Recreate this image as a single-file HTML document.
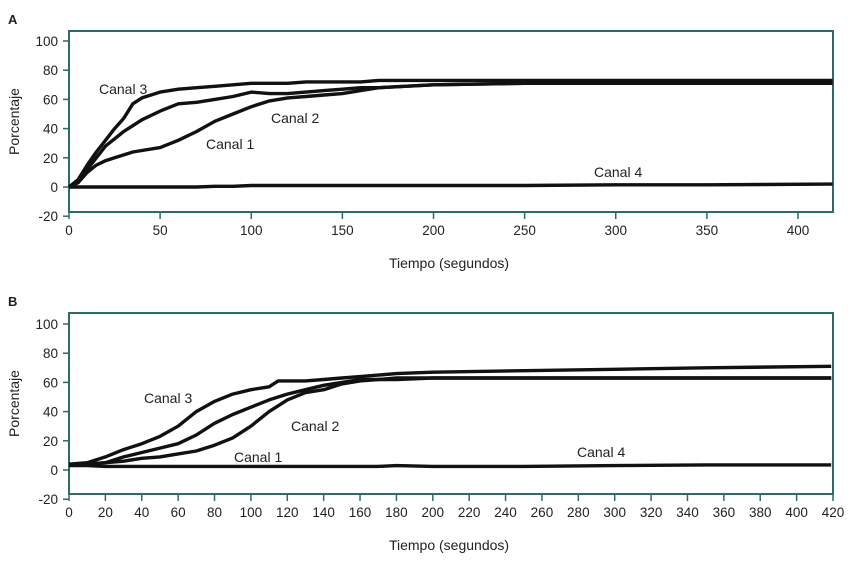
<!DOCTYPE html>
<html><head><meta charset="utf-8"><style>
html,body{margin:0;padding:0;background:#fff;}
svg text{font-family:"Liberation Sans",sans-serif;fill:#222;}
</style></head><body>
<svg id="chart" width="852" height="574" viewBox="0 0 852 574" xmlns="http://www.w3.org/2000/svg"></svg>
<script>
// ---- Panel A data ----
const aTime = [0,5,10,15,20,25,30,35,40,50,60,70,80,90,100,110,120,130,140,150,160,170,200,250,300,350,420];
const aCanal3 = [0,5,15,24,32,40,47,57,61,65,67,68,69,70,71,71,71,72,72,72,72,73,73,73,73,73,73];
const aCanal2 = [0,3,12,20,28,33,38,42,46,52,57,58,60,62,65,64,64,65,66,67,68,68,70,71,71,71,71];
const aCanal1 = [0,3,10,15,18,20,22,24,25,27,32,38,45,50,55,59,61,62,63,64,66,68,70,71,71,71,71];
const aCanal4 = [0,0,0,0,0,0,0,0,0,0,0,0,0.5,0.5,1,1,1,1,1,1,1,1,1,1,1.5,1.5,2];
const aTicks = [0,50,100,150,200,250,300,350,400];
// ---- Panel B data ----
const bTime = [0,10,20,30,40,50,60,70,80,90,100,110,115,120,130,140,150,160,170,180,200,250,300,350,420];
const bCanal3 = [4,5,9,14,18,23,30,40,47,52,55,57,61,61,61,62,63,64,65,66,67,68,69,70,71];
const bCanal2 = [4,4,5,9,12,15,18,24,32,38,43,48,50,52,55,58,60,62,62,63,63,63,63,63,63];
const bCanal1 = [4,4,5,6,8,9,11,13,17,22,30,40,44,48,53,55,59,61,62,62,63,63,63,63,63];
const bCanal4 = [3,3,2.5,2.5,2.5,2.5,2.5,2.5,2.5,2.5,2.5,2.5,2.5,2.5,2.5,2.5,2.5,2.5,2.5,3,2.5,2.5,3,3.5,3.5];
const bTicks = [0,20,40,60,80,100,120,140,160,180,200,220,240,260,280,300,320,340,360,380,400,420];
const yTicks = [100,80,60,40,20,0,-20];

const NS="http://www.w3.org/2000/svg";
const svg=document.getElementById('chart');
function mk(tag,attrs,parent){const e=document.createElementNS(NS,tag);for(const k in attrs)e.setAttribute(k,attrs[k]);(parent||svg).appendChild(e);return e;}
function txt(x,y,s,size,anchor,parent){const t=mk('text',{x:x,y:y,'font-size':size,'text-anchor':anchor||'middle'},parent);t.textContent=s;return t;}

function panel(cfg){
  const g=mk('g',{});
  
  
  const xs=v=>cfg.x0+(v)*(cfg.x400-cfg.x0)/400;
  const ys=v=>cfg.y0-v*cfg.yPer;
  const L=txt(8,cfg.top-7,cfg.letter,13,'start',g);L.setAttribute('font-weight','bold');
  
  
  const fr=mk('rect',{x:69,y:cfg.top,width:764,height:cfg.bottom-cfg.top,fill:'none',stroke:'#2d6b6b','stroke-width':2},g);
  
  
  yTicks.forEach(v=>{
    const y=ys(v);
    mk('line',{x1:63,x2:69,y1:y,y2:y,stroke:'#2d6b6b','stroke-width':1.5},g);
    const t=txt(58,y+5,String(v),13.5,'end',g);
    
    
  });
  cfg.ticks.forEach(v=>{
    const x=xs(v);
    mk('line',{x1:x,x2:x,y1:cfg.bottom,y2:cfg.bottom+7,stroke:'#2d6b6b','stroke-width':1.5},g);
    const t=txt(x,cfg.bottom+23,String(v),13.5,'middle',g);
    
    
  });
  const xt=txt(449,cfg.bottom+56,'Tiempo (segundos)',14,'middle',g);
  
  
  const ytc=(cfg.top+cfg.bottom)/2;
  const yt=txt(19,ytc,'Porcentaje',14,'middle',g);
  yt.setAttribute('transform','rotate(-90 19 '+ytc+')');
  
  
  cfg.series.forEach(s=>{
    const d=cfg.time.map((t,i)=>(i?'L':'M')+xs(Math.min(t,419)).toFixed(1)+','+ys(s.vals[i]).toFixed(1)).join(' ');
    const p=mk('path',{d:d,fill:'none',stroke:'#111','stroke-width':3.4,'stroke-linejoin':'round'},g);
    
    
  });
  cfg.labels.forEach(l=>{
    const t=txt(l[0],l[1],l[2],14,'start',g);
    
    
  });
}
panel({name:'panel-a',letter:'A',top:31,bottom:212,x0:69,x400:798,y0:187,yPer:1.46,ticks:aTicks,time:aTime,
  series:[{name:'line-canal-3',vals:aCanal3},{name:'line-canal-2',vals:aCanal2},{name:'line-canal-1',vals:aCanal1},{name:'line-canal-4',vals:aCanal4}],
  labels:[[99,94,'Canal 3'],[271,123,'Canal 2'],[206,149,'Canal 1'],[594,177,'Canal 4']]});
panel({name:'panel-b',letter:'B',top:313,bottom:494,x0:69,x400:796.6,y0:470,yPer:1.46,ticks:bTicks,time:bTime,
  series:[{name:'line-canal-3',vals:bCanal3},{name:'line-canal-2',vals:bCanal2},{name:'line-canal-1',vals:bCanal1},{name:'line-canal-4',vals:bCanal4}],
  labels:[[144,403,'Canal 3'],[291,431,'Canal 2'],[234,462,'Canal 1'],[577,457,'Canal 4']]});
</script>
</body></html>
